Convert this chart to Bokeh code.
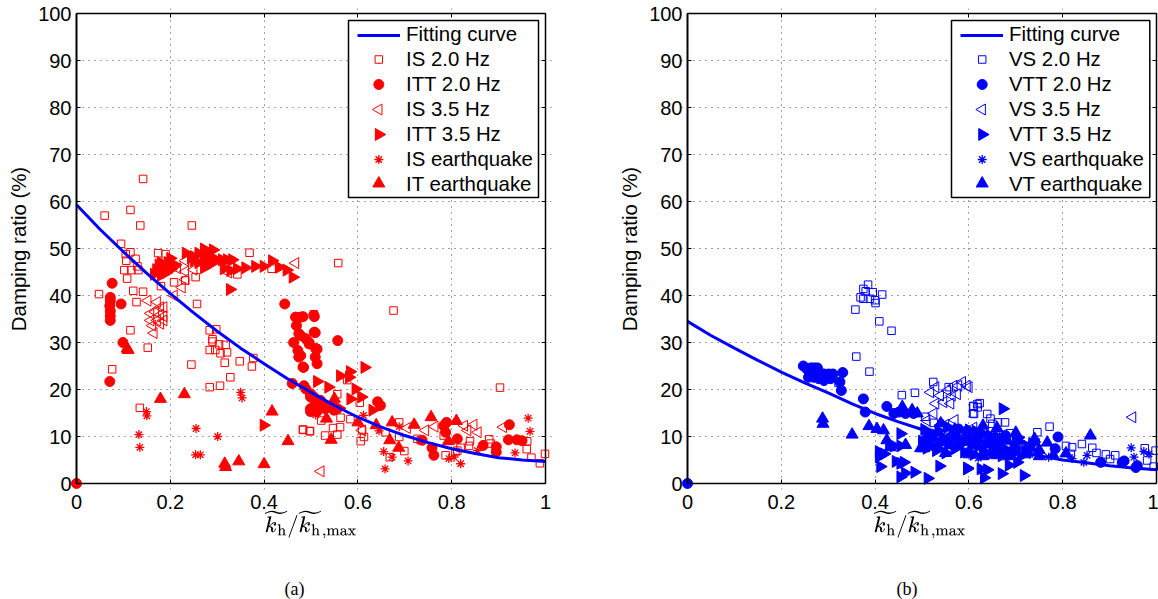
from bokeh.plotting import figure
from bokeh.layouts import row
from bokeh.models import LinearAxis, Legend, LegendItem, Range1d, FixedTicker, Title, Grid
from bokeh.embed import file_html
from bokeh.resources import INLINE
import math

x_ticks = [0, 0.2, 0.4, 0.6, 0.8, 1]
y_ticks = [0, 10, 20, 30, 40, 50, 60, 70, 80, 90, 100]

fit_x = [0, .05, .1, .15, .2, .25, .3, .35, .4, .45, .5, .55, .6, .65, .7, .75, .8, .85, .9, .95, 1]
fit_left_y = [59.3, 54.1, 49.3, 44.7, 40.4, 36.3, 32.4, 28.8, 25.5, 22.3, 19.4, 16.6, 14.1, 12.0, 10.2, 8.7, 7.4, 6.4, 5.5, 5.0, 4.7]
fit_right_y = [34.5, 31.5, 28.8, 26.2, 23.7, 21.4, 19.3, 17.0, 14.9, 13.1, 11.5, 10.0, 8.7, 7.6, 6.7, 5.9, 5.0, 4.4, 3.8, 3.3, 2.9]

is20_x = [.142,.06,.115,.136,.246,.095,.115,.105,.174,.19,.369,.126,.106,.102,.117,.132,.13,.108,.254,.343,.416,.232,.18,.208,.121,.142,.048,.128,.257,.115,.284,.298,.29,.506,
          .076,.152,.135,.245,.29,.284,.296,.307,.321,.304,.318,.316,.348,.377,.374,.328,.306,.284,.483,.497,
          .558,.676,.903,.556,.577,.604,.483,.498,.522,.53,.547,.562,.556,.563,.584,.606,.613,.609,.688,.659,.688,.699,.668,.727,.734,.783,.787,.808,.812,.839,.837,.819,.88,.883,.961,.96,.97,.988,.999]
is20_y = [64.8,57,58.2,54.9,54.9,51,49.2,48.8,49,48.8,49.1,47.8,47.4,45.4,45.4,45.4,46.2,43.6,43.9,44.5,45.7,43.2,42,42.8,41,40.8,40.3,38.6,38.2,32.6,32.6,32.8,30.7,36,
          24.3,28.9,16.1,25.3,30.2,28.4,28.4,27.7,27.9,29.6,29.5,25.7,26,26.7,24.9,22.6,20.8,20.5,11.5,11.2,
          46.9,36.8,20.4,19,22,17.2,11.4,11.1,13.4,10.2,11.8,12,10.4,14,13.7,9,9.9,11.3,13,10.9,9.9,6.9,5.6,9.5,9.2,10.2,6,6.7,7,9,8,7.6,9.4,8.5,9,7.3,5.5,4.3,6.3]

itt20_x = [0,.076,.072,.072,.071,.072,.072,.072,.095,.099,.071,.444,.467,.478,.506,.469,.507,.474,.463,.478,.496,.472,.474,.483,.51,.513,.46,.485,.499,.506,.52,.499,.513,
           .507,.483,.509,.557,.489,.496,.513,.509,.478,.484,.489,.499,.509,.52,.531,.542,.549,.52,.499,.556,.642,.648,.789,.783,.787,.812,.737,.758,.762,.867,.895,.895,.923,.921,.939,.95]
itt20_y = [0,42.6,39.6,38.9,37.8,36.7,35.7,34.7,38.2,30,21.7,38.2,35.4,35.4,35.8,33.6,32.2,31.9,30,31.5,30,28.3,26.9,24.8,28.7,25.5,21.3,20.8,19.1,18.4,17.4,15.3,15.3,
           35.5,35.5,32.1,30.4,30.8,29.7,28.6,26.9,27.2,24.7,20.1,15.9,17,16.3,15.9,16.3,15.6,17.7,18.4,15.9,17.4,16.6,13,12.3,10.9,9.5,9.2,7.6,6,8.1,7.8,6.7,12.5,9.3,9.3,9.1]

is35_x = [.467,.152,.172,.179,.186,.158,.168,.179,.186,.158,.172,.186,.162,.179,.165,.208,.225,.232,.232,.25,.215,.232,.324,
          .521,.91,.856,.847,.827,.834,.764,.744,.705,.609]
is35_y = [46.9,38.9,38.6,37.5,37.5,36.2,36.5,35.9,35.6,34.7,34.7,34.7,33.6,34,32,40,41.7,43.4,45.1,45.5,45.8,47.4,44.9,
          2.6,12,10.9,12.5,12.3,11.3,12.1,11.3,11.8,11.3]

itt35_x = [.165,.17,.175,.18,.185,.19,.195,.2,.205,.21,.18,.19,.2,.233,.244,.25,.26,.272,.28,.291,.272,.28,.291,.26,.272,.25,.298,.31,.321,.332,.314,.328,.342,.36,.381,.399,.417,.432,.448,.461,.327,.286,.279,
           .399,.614,.583,.562,.581,.513,.537,.595,.584,.607,.631,.549,.56,.527]
itt35_y = [44.5,45.5,46.5,47,45,46,47,45.5,46,46.5,44.3,44.8,47.9,49,48,48.3,49,49.9,49.3,49.7,48,47.6,48,47,45.9,47.4,47.6,47.6,47.6,47.6,45.7,45.3,45.7,45.9,46.2,46.2,47.4,46,45.4,43.9,41.3,46.7,46.4,
           12.4,24.7,23.8,22.9,22.6,21.7,20.5,20.1,18,18.4,15.6,16.3,16,17]

iseq_x = [.149,.15,.133,.135,.255,.254,.264,.301,.35,.353,.51,.612,.645,.688,.655,.673,.707,.658,.794,.805,.819,.855,.894,.935,.963,.967]
iseq_y = [15.3,14.4,10.4,7.7,11.7,6.1,6.1,10,19.4,18.2,14.6,14.5,11.2,12.1,6.8,5.6,4.8,3.1,5.3,5.6,4.2,7,6.7,6.5,13.9,11.1]

iteq_x = [.108,.11,.179,.23,.316,.318,.346,.4,.417,.451,.55,.533,.543,.6,.639,.673,.72,.668,.687,.756,.793,.81]
iteq_y = [28.7,28.4,18,19,4.2,3.5,4.7,4.1,15.3,9,18,13.8,9.3,13,12.4,13,12.5,9.2,7.6,14.1,9,13.3]

vs20_x = [.385,.38,.375,.369,.395,.415,.375,.389,.4,.401,.358,.409,.435,.36,.388,.322,.457,.485,.524,.557,.609,.609,.618,.507,.525,
          .61,.623,.619,.611,.639,.646,.65,.662,.677,.657,.687,.772,.746,.807,.82,.841,.863,.872,.892,.912,.901,.975,.998,.98,.994,.742,.817,.739]
vs20_y = [42.3,40.9,41.4,39.6,40.7,40.2,39.3,39.3,39,38.4,37,34.5,32.5,27,23.8,21.4,18.8,19.3,21.6,20.5,16.5,14.9,16.9,14.2,12.9,
          16.4,17.1,16.2,14.8,14.8,13.8,12.7,13,13,10.6,10.7,12.1,10.9,8,7.7,8.4,7.6,6.5,6.2,6,5.2,7.5,7,4.9,3.6,8.8,6.3,7.8]

vtt20_x = [0,.247,.255,.263,.27,.277,.281,.258,.269,.28,.291,.291,.301,.31,.305,.331,.325,.328,.375,.379,.425,.44,.451,.465,.482,.578,.568,.596,.678,.79,.784,.881,.927,.931,.959,.956,.52,.55,.62,.65,.7]
vtt20_y = [0,25,24.3,24.6,24.6,24.6,23.7,22.6,22.6,22.3,21.9,23.3,23.3,23.3,22.3,23.6,21.6,19.8,18,15.2,16.4,14.9,15.2,14.9,14.9,11.6,10.6,11.2,10.2,9.9,7.4,4.5,4.5,4.8,3.8,3.4,10.5,9,9.5,8.5,7.5]

vs35_x = [.518,.529,.539,.546,.554,.564,.568,.578,.586,.561,.575,.596,.529,.525,.539,.51,.6,.949,.61,.55,.57,.63]
vs35_y = [19.4,20.5,18.7,17.3,19.8,18.7,20.8,20.8,21.6,17,19,20.8,17,14.9,12.4,13.4,20.5,14.1,11.9,12.5,13.5,9.5]

vtt35_x = [.454,.408,.419,.411,.444,.454,.461,.454,.464,.484,.512,.537,.596,.43,.408,.44,.454,.672,.596,.625,.639,.632,.67,.685,.717,.703,
           .5,.52,.54,.56,.58,.6,.62,.64,.66,.68,.7,.72,.51,.53,.55,.57,.59,.61,.63,.65,.67,.69,.71,.535,.565,.6,.63,.66,.7,
           .515,.545,.575,.605,.635,.665,.695,.725,.505,.555,.615,.645,.675,.705,.735]
vtt35_y = [10.6,5.7,6.3,3.6,4.7,4.3,4.5,1.4,2.2,2.4,1.1,3.7,3.3,8.5,6.8,8,8,15.9,3.1,3.1,2.9,1.2,2.1,3.9,1.7,4.5,
           9,10.2,8.6,9.5,8.2,9.7,7.9,9.2,8,7.2,8.6,6.9,7.5,7,6.5,7.4,6.7,6.2,6.9,6.5,5.9,6.2,5.8,11.2,10.8,11.4,10.6,10,9.2,
           8.3,9.8,9.2,8.6,8.2,8.8,7.6,7.9,11.5,12,11.1,10.2,9.5,9.8,8.5]

vseq_x = [.946,.973,.984,.952,.82,.852,.845,.77,.73,.72,.68,.64,.6,.56,.62,.66,.7,.74,.58,.54]
vseq_y = [7.6,6.8,6.3,5.6,5.3,6,4.5,5.6,6.2,7,5.6,6.2,7,8,5.4,6.8,8.2,7.2,10,10.6]

vteq_x = [.288,.289,.351,.387,.404,.418,.425,.432,.458,.479,.49,.465,.497,.511,.504,.532,.56,.596,.767,.859,.75,.708,.729,.671,.643,.614,.589,.807,.682,.525,.57,
          .55,.6,.63,.66,.69,.72,.75,.78,.57,.63,.66,.7,.74,.54]
vteq_y = [13.8,12.7,10.4,12.2,11.6,11.3,9.2,7.7,16.3,15.6,14.9,8.2,7.5,10.3,7.5,7.8,8.2,10.6,8.7,10.2,7.1,9.1,7.8,7.3,8.7,8.1,8.9,6.4,9.1,9.5,10,
          6.5,6.2,5.8,6,5.8,6.2,5.8,6,11.5,12.3,11.8,10.8,9.5,12.8]


AX_W, AX_H = 469, 470   # pixels per unit range of the axes


def panel(color, fit_y, data, names, letter, left, frame_w, right_border, box_l, box_r, key_x, cap_off):
    xs = 1 / AX_W
    ys = 100 / AX_H
    p = figure(width=left + frame_w + right_border, height=599, output_backend="svg", toolbar_location=None,
               x_range=Range1d(-6 * xs, (frame_w - 6) * xs),
               y_range=Range1d(-6 * ys, 100 + 5 * ys),
               frame_width=frame_w, frame_height=481,
               min_border_left=left, min_border_right=right_border, min_border_top=8, min_border_bottom=110,
               x_axis_location=None, y_axis_location=None, outline_line_color=None)
    p.xgrid.grid_line_color = None
    p.ygrid.grid_line_color = None

    # outer axes: labels only
    bx = LinearAxis(ticker=FixedTicker(ticks=x_ticks), axis_line_color=None, major_tick_line_color=None,
                    minor_tick_line_color=None, major_tick_in=0, major_tick_out=0,
                    major_label_text_font="Liberation Sans", major_label_text_font_size="20px",
                    major_label_text_color="black", major_label_standoff=5,
                    major_label_overrides={0: "0", 1: "1"},
                    axis_label=r"$$\widetilde{k_{\mathrm{h}}}/\widetilde{k_{\mathrm{h}}}{}_{,\mathrm{max}}$$",
                    axis_label_standoff=-3, axis_label_text_font_size="18.5px",
                    axis_label_text_font_style="normal", axis_label_text_color="black")
    p.add_layout(bx, "below")
    ly = LinearAxis(ticker=FixedTicker(ticks=y_ticks), axis_line_color=None, major_tick_line_color=None,
                    minor_tick_line_color=None, major_tick_in=0, major_tick_out=0,
                    major_label_text_font="Liberation Sans", major_label_text_font_size="20px",
                    major_label_text_color="black", major_label_standoff=-1,
                    axis_label="Damping ratio (%)", axis_label_text_font="Liberation Sans",
                    axis_label_text_font_size="20.4px", axis_label_text_font_style="normal",
                    axis_label_text_color="black", axis_label_standoff=5)
    p.add_layout(ly, "left")

    # inner axes: lines and ticks only, on the data values
    blank_x = {t: "" for t in x_ticks}
    blank_y = {t: "" for t in y_ticks}
    for fixed, main in ((0, True), (100, False)):
        ax = LinearAxis(fixed_location=fixed, bounds=(0, 1), ticker=FixedTicker(ticks=x_ticks),
                        major_tick_in=4 if main else 0, major_tick_out=0 if main else 4,
                        minor_tick_line_color=None, axis_line_color="black", major_tick_line_color="black",
                        axis_line_width=1.5, major_label_overrides=blank_x, major_label_standoff=0)
        p.add_layout(ax, "below")
    for fixed, main in ((0, True), (1, False)):
        ax = LinearAxis(fixed_location=fixed, bounds=(0, 100), ticker=FixedTicker(ticks=y_ticks),
                        major_tick_in=4 if main else 0, major_tick_out=0 if main else 4,
                        minor_tick_line_color=None, axis_line_color="black", major_tick_line_color="black",
                        axis_line_width=2 if main else 1.5, major_label_overrides=blank_y, major_label_standoff=0)
        p.add_layout(ax, "left")

    for dim, tick, bnds in ((0, x_ticks, (0, 100)), (1, y_ticks, (0, 1))):
        p.add_layout(Grid(dimension=dim, ticker=FixedTicker(ticks=tick[1:-1]), bounds=bnds,
                          grid_line_color="#444444", grid_line_dash="1 5", grid_line_width=1))

    styles = [
        ("square", 7.5, False, 0, 1),
        ("circle", 10, True, 0, 1),
        ("triangle", 11, False, math.pi / 2, 1),
        ("triangle", 12, True, -math.pi / 2, 1),
        ("asterisk", 9, False, 0, 1.3),
        ("triangle", 12, True, 0, 1),
    ]
    for (dx, dy), (m, s, filled, ang, lw) in zip(data, styles):
        p.scatter(dx, dy, marker=m, size=s, angle=ang, line_color=color, line_width=lw,
                  fill_color=color if filled else None)
    fit = p.line(fit_x, fit_y, line_color="#0000ff", line_width=3)

    # legend frame and keys are drawn as glyphs: the legend neither turns a marker nor keeps its size
    p.quad(left=[box_l * xs], right=[box_r * xs], top=[463 * ys], bottom=[286 * ys],
           fill_color="white", line_color="black", line_width=1.5)
    for row_y, (m, s, filled, ang, lw) in zip([424, 399, 374, 349, 324, 300], styles):
        p.scatter([key_x * xs], [row_y * ys], marker=m, size=s, angle=ang, line_color=color, line_width=lw,
                  fill_color=color if filled else None)

    blank = p.scatter([], [], marker="square", size=1, line_alpha=0, fill_alpha=0)
    items = [LegendItem(label="Fitting curve", renderers=[fit])]
    items += [LegendItem(label=n, renderers=[blank]) for n in names]
    # legend position counted from the frame's lower left corner: 6 px overhang + box offset + 9 px inset
    leg = Legend(items=items, location=(6 + box_l + 9, 293), orientation="vertical",
                 label_text_font="Liberation Sans", label_text_font_size="20.4px", label_text_color="black",
                 glyph_width=43, glyph_height=18, label_height=18, spacing=2, padding=0, margin=0,
                 label_standoff=6, border_line_color=None,
                 background_fill_alpha=0)
    p.add_layout(leg)
    p.add_layout(Title(text=f"({letter})", text_font="Liberation Serif", text_font_size="18px",
                       text_font_style="normal", text_color="black", align="left", offset=cap_off,
                       standoff=70), "below")
    return p


p1 = panel("#ff0000", fit_left_y,
           [(is20_x, is20_y), (itt20_x, itt20_y), (is35_x, is35_y), (itt35_x, itt35_y), (iseq_x, iseq_y), (iteq_x, iteq_y)],
           ["IS 2.0 Hz", "ITT 2.0 Hz", "IS 3.5 Hz", "ITT 3.5 Hz", "IS earthquake", "IT earthquake"],
           "a", 70, 481, 59, 272, 462, 302.3, 214)
p2 = panel("#0000ff", fit_right_y,
           [(vs20_x, vs20_y), (vtt20_x, vtt20_y), (vs35_x, vs35_y), (vtt35_x, vtt35_y), (vseq_x, vseq_y), (vteq_x, vteq_y)],
           ["VS 2.0 Hz", "VTT 2.0 Hz", "VS 3.5 Hz", "VTT 3.5 Hz", "VS earthquake", "VT earthquake"],
           "b", 71, 477, 0, 264, 462.3, 294.7, 215)

page = row(p1, p2, spacing=0)
open("out.html", "w").write(file_html(page, INLINE))
